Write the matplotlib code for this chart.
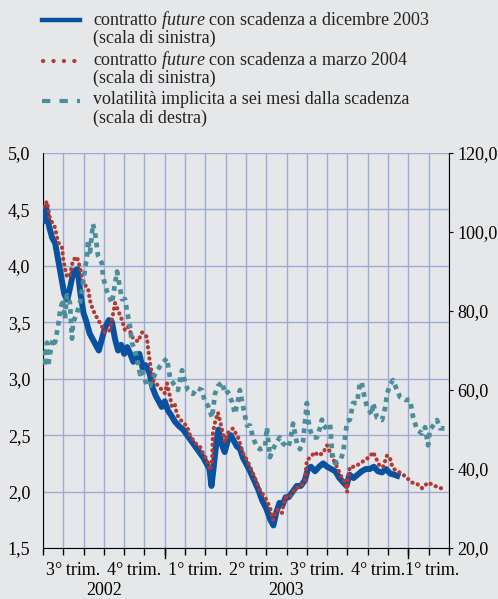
import matplotlib
matplotlib.use("Agg")
import matplotlib.pyplot as plt
from matplotlib.lines import Line2D
from matplotlib.ticker import FuncFormatter
import numpy as np

plt.rcParams['font.family'] = ['Liberation Serif', 'DejaVu Serif']
plt.rcParams['mathtext.fontset'] = 'custom'
plt.rcParams['mathtext.rm'] = 'Liberation Serif'
plt.rcParams['mathtext.it'] = 'Liberation Serif:italic'

# x = mesi da luglio 2002 (0 = 1 lug 2002, 20 = 1 mar 2004)
dic03_x = [0.00, 0.15, 0.30, 0.45, 0.60, 0.75, 0.90, 1.05, 1.20, 1.35, 1.50, 1.70, 1.85, 2.00,
           2.15, 2.30, 2.45, 2.60, 2.75, 2.90, 3.05, 3.25, 3.40, 3.55, 3.70, 3.85, 4.00, 4.15,
           4.30, 4.45, 4.60, 4.75, 4.90, 5.05, 5.25, 5.40, 5.55, 5.70, 5.85, 6.00, 6.15, 6.30,
           6.50, 6.70, 6.90, 7.10, 7.30, 7.50, 7.70, 7.90, 8.05, 8.20, 8.30, 8.40, 8.55, 8.65,
           8.80, 8.95, 9.10, 9.25, 9.40, 9.55, 9.70, 9.85, 10.00, 10.20, 10.40, 10.60, 10.80,
           11.00, 11.20, 11.35, 11.50, 11.65, 11.80, 11.95, 12.10, 12.30, 12.50, 12.70, 12.90,
           13.05, 13.20, 13.40, 13.60, 13.80, 14.00, 14.20, 14.40, 14.60, 14.80, 14.95, 15.10,
           15.30, 15.50, 15.70, 15.90, 16.10, 16.30, 16.50, 16.70, 16.90, 17.10, 17.30, 17.45]
dic03_y = [4.40, 4.52, 4.35, 4.25, 4.20, 4.05, 3.90, 3.75, 3.70, 3.82, 3.95, 3.97, 3.75, 3.58,
           3.50, 3.40, 3.35, 3.30, 3.25, 3.35, 3.45, 3.52, 3.50, 3.35, 3.25, 3.30, 3.22, 3.28,
           3.22, 3.15, 3.20, 3.22, 3.10, 3.12, 3.05, 2.92, 2.85, 2.80, 2.75, 2.80, 2.72, 2.68,
           2.62, 2.58, 2.55, 2.50, 2.45, 2.40, 2.35, 2.30, 2.25, 2.20, 2.05, 2.20, 2.45, 2.55,
           2.42, 2.35, 2.45, 2.50, 2.45, 2.40, 2.38, 2.30, 2.25, 2.18, 2.10, 2.02, 1.92,
           1.85, 1.75, 1.70, 1.82, 1.90, 1.88, 1.95, 1.95, 2.00, 2.05, 2.05, 2.10,
           2.20, 2.22, 2.18, 2.22, 2.25, 2.22, 2.20, 2.18, 2.12, 2.08, 2.05, 2.15,
           2.12, 2.15, 2.18, 2.20, 2.20, 2.22, 2.18, 2.17, 2.20, 2.16, 2.15, 2.14]

mar04_x = [0.00, 0.20, 0.34, 0.59, 0.74, 0.94, 0.99, 1.08, 1.18, 1.33, 1.48, 1.67, 1.82, 1.97,
           2.22, 2.32, 2.46, 2.66, 2.91, 3.05, 3.30, 3.55, 3.69, 3.89, 4.04, 4.19, 4.43, 4.68,
           4.88, 5.12, 5.17, 5.27, 5.42, 5.76, 6.01, 6.11, 6.26, 6.35, 6.50, 6.60, 6.85, 7.09,
           7.24, 7.49, 7.73, 7.88, 8.08, 8.23, 8.33, 8.37, 8.47, 8.62, 8.82, 8.97, 9.11, 9.36,
           9.61, 9.85, 10.05, 10.20, 10.44, 10.69, 10.94, 11.18, 11.33, 11.53, 11.77, 11.92,
           12.17, 12.41, 12.66, 12.91, 13.00, 13.15, 13.40, 13.55, 13.79, 13.99, 14.24, 14.48,
           14.73, 14.88, 14.98, 15.02, 15.12, 15.37, 15.62, 15.86, 16.11, 16.26, 16.45, 16.60,
           16.75, 16.95, 17.09, 17.19, 17.34, 17.68, 17.93, 18.18, 18.42, 18.67, 18.97, 19.31,
           19.56, 19.80]
mar04_y = [4.52, 4.57, 4.42, 4.34, 4.21, 4.16, 4.07, 3.98, 3.90, 3.92, 4.05, 4.08, 3.99, 3.85,
           3.80, 3.69, 3.61, 3.54, 3.46, 3.41, 3.43, 3.67, 3.61, 3.52, 3.43, 3.46, 3.36, 3.33,
           3.41, 3.37, 3.28, 3.14, 2.99, 2.92, 2.87, 2.96, 2.84, 2.75, 2.77, 2.68, 2.62, 2.58,
           2.50, 2.43, 2.40, 2.34, 2.28, 2.19, 2.28, 2.52, 2.61, 2.70, 2.55, 2.44, 2.52, 2.56,
           2.48, 2.34, 2.28, 2.22, 2.12, 2.01, 1.95, 1.86, 1.75, 1.84, 1.81, 1.95,
           1.95, 2.03, 2.04, 2.10, 2.28, 2.30, 2.35, 2.32, 2.34, 2.41, 2.31, 2.22,
           2.12, 2.08, 2.00, 2.10, 2.22, 2.22, 2.25, 2.28, 2.31, 2.35, 2.28, 2.22,
           2.22, 2.32, 2.30, 2.23, 2.19, 2.16, 2.12, 2.08, 2.07, 2.03, 2.08, 2.05,
           2.03, 2.03]

vol_x = [0.00, 0.10, 0.20, 0.25, 0.34, 0.49, 0.59, 0.74, 0.84, 0.99, 1.08, 1.18, 1.33, 1.43,
         1.48, 1.67, 1.82, 1.97, 2.17, 2.22, 2.32, 2.46, 2.56, 2.71, 2.91, 2.96, 3.15, 3.40,
         3.55, 3.65, 3.79, 3.89, 4.04, 4.14, 4.29, 4.38, 4.53, 4.63, 4.78, 4.88, 5.12, 5.27,
         5.52, 5.76, 5.91, 6.11, 6.26, 6.50, 6.65, 6.85, 7.00, 7.14, 7.39, 7.59, 7.83, 7.98,
         8.13, 8.33, 8.47, 8.62, 8.82, 8.97, 9.11, 9.31, 9.46, 9.61, 9.70, 9.85, 10.05, 10.20,
         10.34, 10.54, 10.69, 10.94, 11.03, 11.18, 11.33, 11.53, 11.67, 11.82, 12.07, 12.17,
         12.32, 12.51, 12.66, 12.81, 13.00, 13.05, 13.15, 13.30, 13.50, 13.65, 13.74, 13.89,
         14.14, 14.24, 14.38, 14.63, 14.78, 14.88, 14.98, 15.12, 15.27, 15.47, 15.62, 15.71,
         15.76, 15.96, 16.21, 16.26, 16.45, 16.70, 16.85, 16.95, 17.09, 17.24, 17.44, 17.59,
         17.83, 18.08, 18.23, 18.42, 18.67, 18.82, 18.97, 19.06, 19.16, 19.41, 19.56, 19.80,
         19.95]
vol_y = [70, 66, 72, 66, 69, 73, 72, 76, 80, 83, 78, 84, 82, 73,
         77, 79.5, 82, 87, 94, 98, 95, 102, 100, 94, 92, 88.6, 85, 82,
         87, 90, 86, 83, 83, 80, 76, 72, 70, 68, 64, 65, 61, 61,
         64, 66, 67, 68, 63, 61, 60, 65, 62, 60, 59, 60.5, 60, 57,
         56, 53, 59, 61, 62, 59, 59.5, 57, 54, 57.5, 60, 56, 51, 51,
         48, 45.5, 45, 45.5, 50.5, 43, 45, 47, 48, 46.5, 45.5, 47,
         51.5, 46.5, 45, 47, 56.7, 53, 50, 48, 48, 50.5, 52.5, 50.5,
         51.5, 44, 41.5, 42, 44, 48, 52, 52.5, 56.7, 56.7, 62, 61.8,
         60, 55.7, 53.7, 56.7, 53, 52.4, 55.4, 59, 61.3, 62.5, 60, 58.2,
         57.5, 57.5, 53.2, 50, 49, 50.6, 46, 50, 50.6, 52.4, 50.3, 50.3,
         50.3]

trimestri = ["3°trim.", "4°trim.", "1°trim.", "2°trim.", "3°trim.", "4°trim.", "1°trim."]
trim_pos = [1.5, 4.5, 7.5, 10.5, 13.5, 16.5, 19.15]
anni = ["2002", "2003"]
anni_pos = [3, 12]

bg = '#e6e7e9'
blu = '#0a52a0'
rosso = '#b23a33'
verde = '#4b8e9b'
griglia = '#9eaad6'
fs = 13

fig = plt.figure(figsize=(4.98, 5.99), dpi=100, facecolor=bg)
ax = fig.add_axes([0.0863, 0.0851, 0.8153, 0.6595])
ax.set_facecolor(bg)

ax.plot(dic03_x, dic03_y, color=blu, lw=4.3, zorder=3)
ax.plot(mar04_x, mar04_y, color=rosso, lw=3.0, linestyle=(0, (0.05, 1.3)),
        dash_capstyle='round', zorder=4)

ax.set_xlim(0, 20)
ax.set_ylim(1.5, 5.0)
ax.set_yticks(np.arange(1.5, 5.01, 0.5))
ax.yaxis.set_major_formatter(FuncFormatter(lambda v, p: f"{v:.1f}".replace('.', ',')))
ax.set_xticks(np.arange(0, 21, 1))
ax.set_xticklabels([])
ax.grid(True, color=griglia, lw=1.0)
ax.set_axisbelow(True)
ax.tick_params(axis='y', length=0, pad=9, labelsize=fs)
ax.tick_params(axis='x', length=5, width=1, direction='out', color='black')
for s in ['top', 'right']:
    ax.spines[s].set_visible(False)
ax.spines['left'].set_color('black')
ax.spines['bottom'].set_color('black')

# tacche più lunghe a inizio anno
for m in [6, 18]:
    ax.plot([m, m], [0, -0.025], transform=ax.get_xaxis_transform(), color='black',
            lw=1, clip_on=False)

ax2 = ax.twinx()
ax2.plot(vol_x, vol_y, color=verde, lw=3.4, linestyle=(0, (1.0, 1.0)), zorder=5)
ax2.set_ylim(20, 120)
ax2.set_yticks(np.arange(20, 121, 20))
ax2.yaxis.set_major_formatter(FuncFormatter(lambda v, p: f"{v:.1f}".replace('.', ',')))
ax2.tick_params(axis='y', length=3, pad=3, labelsize=fs)
for s in ['top', 'left', 'bottom']:
    ax2.spines[s].set_visible(False)
ax2.spines['right'].set_color('black')

tr = ax.get_xaxis_transform()
for lab, p in zip(trimestri, trim_pos):
    ax.text(p, -0.056, lab.replace('°', '°\u2009'), transform=tr, ha='center', va='center',
            fontsize=fs)
for lab, p in zip(anni, anni_pos):
    ax.text(p, -0.108, lab, transform=tr, ha='center', va='center', fontsize=fs)

# legenda
W, H = 498.0, 599.0
def fx(px):
    return px / W
def fy(py):
    return 1 - py / H

fig.add_artist(Line2D([fx(42), fx(80)], [fy(20), fy(20)], color=blu, lw=3.2))
fig.add_artist(Line2D([fx(43), fx(81)], [fy(61), fy(61)], color=rosso, lw=3,
                      linestyle=(0, (0.05, 2.45)), dash_capstyle='round'))
fig.add_artist(Line2D([fx(42), fx(80)], [fy(101), fy(101)], color=verde, lw=3,
                      linestyle=(0, (2.0, 2.2))))
righe = [("contratto $\\mathit{future}$ con scadenza a dicembre 2003", 20),
         ("(scala di sinistra)", 38),
         ("contratto $\\mathit{future}$ con scadenza a marzo 2004", 60),
         ("(scala di sinistra)", 78),
         ("volatilità implicita a sei mesi dalla scadenza", 100),
         ("(scala di destra)", 118)]
for t, py in righe:
    fig.text(fx(93), fy(py), t, ha='left', va='center', fontsize=fs, color='#222222')

fig.savefig("out.png", dpi=100, facecolor=bg)
